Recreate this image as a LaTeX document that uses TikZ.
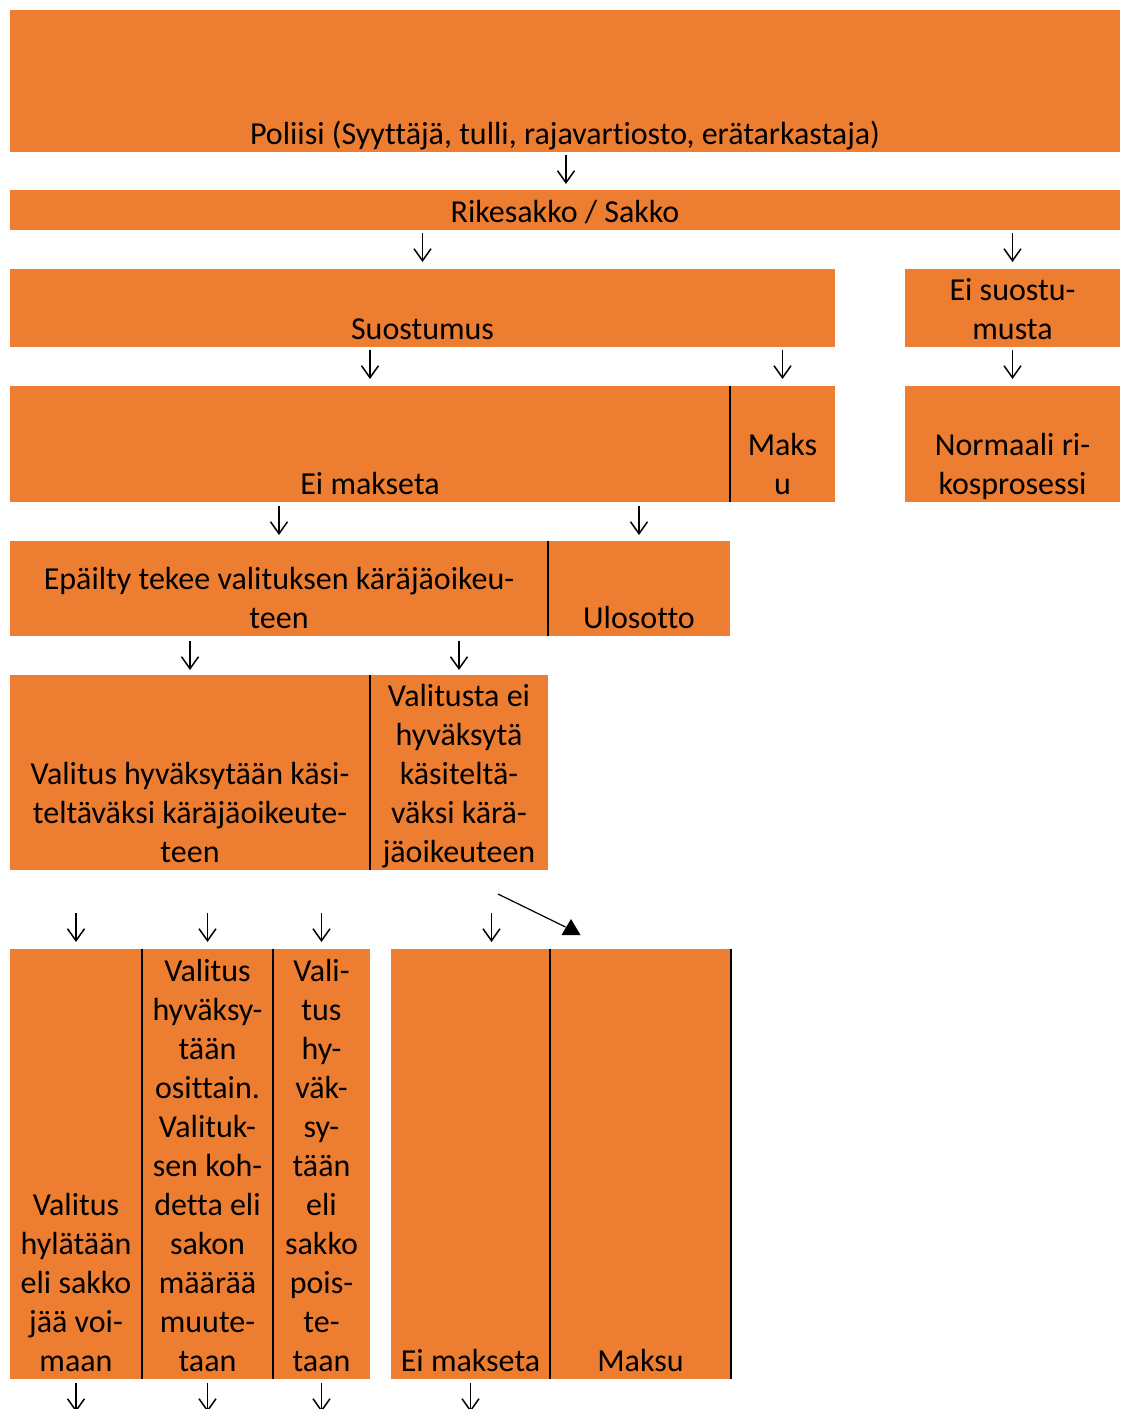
\documentclass[tikz,border=0pt]{standalone}
\usepackage{fontspec}
\setmainfont[Ligatures={NoCommon}]{Carlito}
\usetikzlibrary{calc,arrows.meta}
\definecolor{orng}{HTML}{ED7D31}
\newcommand\cellt[1]{\begin{tabular}[b]{@{}c@{}}#1\end{tabular}}
\begin{document}
\begin{tikzpicture}[x=1pt,y=-1pt,
 cell/.style={fill=orng, draw=none, inner sep=0pt, outer sep=0pt, anchor=north west},
 lbl/.style={inner sep=0pt, anchor=base, font=\fontsize{32}{39}\selectfont, text=black},
 arr/.style={-{Straight Barb[length=12pt,width=17pt]}, line width=1.5pt},
 sep/.style={line width=1.8pt, black}]
\useasboundingbox (0,0) rectangle (1120,1409);
\clip (0,0) rectangle (1120,1409);
% cells
\node[cell, minimum width=1110pt, minimum height=142pt] (p1) at (10,10) {};
\node[cell, minimum width=1110pt, minimum height=40pt] (r1) at (10,190) {};
\node[cell, minimum width=825pt, minimum height=78pt] (s1) at (10,269) {};
\node[cell, minimum width=215pt, minimum height=78pt] (es) at (905,269) {};
\node[cell, minimum width=720pt, minimum height=116pt] (em) at (10,386) {};
\node[cell, minimum width=105pt, minimum height=116pt] (mk) at (730,386) {};
\node[cell, minimum width=215pt, minimum height=116pt] (nr) at (905,386) {};
\node[cell, minimum width=538pt, minimum height=95pt] (ep) at (10,541) {};
\node[cell, minimum width=182pt, minimum height=95pt] (ul) at (548,541) {};
\node[cell, minimum width=360pt, minimum height=195pt] (vh) at (10,675) {};
\node[cell, minimum width=178pt, minimum height=195pt] (ve) at (370,675) {};
\node[cell, minimum width=132pt, minimum height=430pt] (b1) at (10,949) {};
\node[cell, minimum width=131pt, minimum height=430pt] (b2) at (142,949) {};
\node[cell, minimum width=97pt, minimum height=430pt] (b3) at (273,949) {};
\node[cell, minimum width=159pt, minimum height=430pt] (b4) at (391,949) {};
\node[cell, minimum width=181pt, minimum height=430pt] (b5) at (550,949) {};
% separators
\draw[sep] (mk.north west) -- (mk.south west);
\draw[sep] (ul.north west) -- (ul.south west);
\draw[sep] (ve.north west) -- (ve.south west);
\draw[sep] (b2.north west) -- (b2.south west);
\draw[sep] (b3.north west) -- (b3.south west);
\draw[sep] (b5.north west) -- (b5.south west);
\draw[sep] (b5.north east) -- (b5.south east);
% labels
\node[lbl] (p1t) at ($(p1.south)+(0,-8)$) {Poliisi (Syyttäjä, tulli, rajavartiosto, erätarkastaja)};
\node[lbl] (r1t) at ($(r1.south)+(0,-8)$) {Rikesakko / Sakko};
\node[lbl] (s1t) at ($(s1.south)+(0,-8)$) {Suostumus};
\node[lbl] (est) at ($(es.south)+(0,-8)$) {\cellt{Ei suostu-\\musta}};
\node[lbl] (emt) at ($(em.south)+(0,-8)$) {Ei makseta};
\node[lbl] (mkt) at ($(mk.south)+(0,-8)$) {\cellt{Maks\\u}};
\node[lbl] (nrt) at ($(nr.south)+(0,-8)$) {\cellt{Normaali ri-\\kosprosessi}};
\node[lbl] (ept) at ($(ep.south)+(0,-8)$) {\cellt{Epäilty tekee valituksen käräjäoikeu-\\teen}};
\node[lbl] (ult) at ($(ul.south)+(0,-8)$) {Ulosotto};
\node[lbl] (vht) at ($(vh.south)+(0,-8)$) {\cellt{Valitus hyväksytään käsi-\\teltäväksi käräjäoikeute-\\teen}};
\node[lbl] (vet) at ($(ve.south)+(0,-8)$) {\cellt{Valitusta ei\\hyväksytä\\käsiteltä-\\väksi kärä-\\jäoikeuteen}};
\node[lbl] (b1t) at ($(b1.south)+(0,-8)$) {\cellt{Valitus\\hylätään\\eli sakko\\jää voi-\\maan}};
\node[lbl] (b2t) at ($(b2.south)+(0,-8)$) {\cellt{Valitus\\hyväksy-\\tään\\osittain.\\Valituk-\\sen koh-\\detta eli\\sakon\\määrää\\muute-\\taan}};
\node[lbl] (b3t) at ($(b3.south)+(0,-8)$) {\cellt{Vali-\\tus\\hy-\\väk-\\sy-\\tään\\eli\\sakko\\pois-\\te-\\taan}};
\node[lbl] (b4t) at ($(b4.south)+(0,-8)$) {Ei makseta};
\node[lbl] (b5t) at ($(b5.south)+(0,-8)$) {Maksu};
% arrows
\draw[arr] ($(p1.south)+(1,3)$) -- ($(r1.north)+(1,-6)$);
\draw[arr] ($(s1.north)+(0,-36)$) -- ($(s1.north)+(0,-7)$);
\draw[arr] ($(es.north)+(0,-36)$) -- ($(es.north)+(0,-7)$);
\draw[arr] ($(em.north)+(0,-36)$) -- ($(em.north)+(0,-7)$);
\draw[arr] ($(mk.north)+(0,-36)$) -- ($(mk.north)+(0,-7)$);
\draw[arr] ($(nr.north)+(0,-36)$) -- ($(nr.north)+(0,-7)$);
\draw[arr] ($(ep.north)+(0,-35)$) -- ($(ep.north)+(0,-6)$);
\draw[arr] ($(ul.north)+(0,-35)$) -- ($(ul.north)+(0,-6)$);
\draw[arr] ($(vh.north)+(0,-34)$) -- ($(vh.north)+(0,-5)$);
\draw[arr] ($(ve.north)+(0,-34)$) -- ($(ve.north)+(0,-5)$);
\draw[arr] ($(b1.north)+(0,-36)$) -- ($(b1.north)+(0,-7)$);
\draw[arr] ($(b2.north)+(0,-36)$) -- ($(b2.north)+(0,-7)$);
\draw[arr] ($(b3.north)+(0,-36)$) -- ($(b3.north)+(0,-7)$);
\draw[arr] ($(b4.north)+(21,-36)$) -- ($(b4.north)+(21,-7)$);
\draw[arr] ($(b1.south)+(0,4)$) -- ($(b1.south)+(0,33)$);
\draw[arr] ($(b2.south)+(0,4)$) -- ($(b2.south)+(0,33)$);
\draw[arr] ($(b3.south)+(0,4)$) -- ($(b3.south)+(0,33)$);
\draw[arr] ($(b4.south)+(0,4)$) -- ($(b4.south)+(0,33)$);
% diagonal arrow
\coordinate (dgs) at ($(ve.south)+(39,24)$);
\coordinate (dge) at ($(b5.north)+(-75,-22)$);
\draw[line width=1.2pt] (dgs) -- (dge);
\fill ($(b5.north)+(-79,-14)$) -- ($(b5.north)+(-60,-14)$) -- ($(b5.north)+(-69.5,-30)$) -- cycle;
\end{tikzpicture}
\end{document}
